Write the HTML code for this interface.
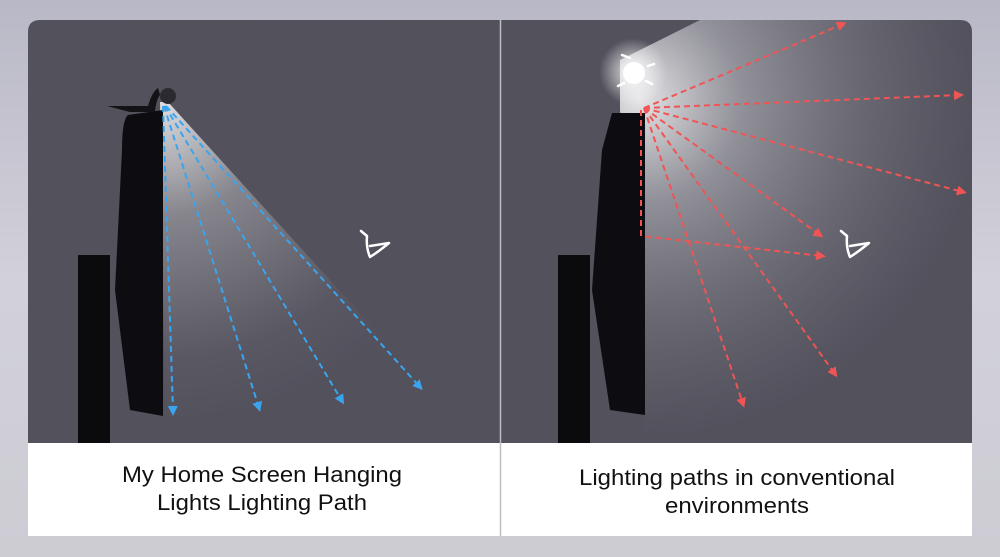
<!DOCTYPE html>
<html><head><meta charset="utf-8"><style>
html,body{margin:0;padding:0;width:1000px;height:557px;overflow:hidden;background:#cfced6}
</style></head><body>
<svg width="1000" height="557" viewBox="0 0 1000 557" xmlns="http://www.w3.org/2000/svg">
<defs>
<linearGradient id="bg" x1="0" y1="0" x2="0" y2="1"><stop offset="0" stop-color="#b9b8c6"/><stop offset="0.5" stop-color="#d2d1da"/><stop offset="1" stop-color="#cdccd3"/></linearGradient>
<radialGradient id="beamL" cx="163" cy="104" r="320" gradientUnits="userSpaceOnUse"><stop offset="0" stop-color="#ffffff" stop-opacity="0.8"/><stop offset="0.35" stop-color="#ffffff" stop-opacity="0.3"/><stop offset="0.8" stop-color="#ffffff" stop-opacity="0.04"/><stop offset="1" stop-color="#ffffff" stop-opacity="0"/></radialGradient>
<radialGradient id="glowR" cx="640" cy="100" r="340" gradientUnits="userSpaceOnUse"><stop offset="0" stop-color="#ffffff" stop-opacity="0.85"/><stop offset="0.3" stop-color="#d0d0d6" stop-opacity="0.5"/><stop offset="1" stop-color="#8a8a94" stop-opacity="0"/></radialGradient>
<radialGradient id="bulbG" cx="633" cy="72" r="34" gradientUnits="userSpaceOnUse"><stop offset="0" stop-color="#fff" stop-opacity="0.9"/><stop offset="1" stop-color="#fff" stop-opacity="0"/></radialGradient>
<marker id="ab" markerWidth="10" markerHeight="10" refX="6" refY="5" orient="auto" markerUnits="userSpaceOnUse"><path d="M0,0 L10,5 L0,10 z" fill="#3aa4ee"/></marker>
<marker id="ar" markerWidth="10" markerHeight="10" refX="6" refY="5" orient="auto" markerUnits="userSpaceOnUse"><path d="M0,0 L10,5 L0,10 z" fill="#f05454"/></marker>
<clipPath id="cl"><rect x="28" y="20" width="472" height="423"/></clipPath>
<clipPath id="cr"><rect x="501" y="20" width="471" height="423"/></clipPath>
</defs>
<rect width="1000" height="557" fill="url(#bg)"/>
<path d="M28,443 V32 Q28,20 40,20 H960 Q972,20 972,32 V443 Z" fill="#52515c"/>
<rect x="28" y="443" width="944" height="93" fill="#fff"/>
<line x1="500.5" y1="20" x2="500.5" y2="536" fill="none" stroke="#bdbdc4" stroke-width="1.5"/>
<g clip-path="url(#cl)">
<polygon points="160,102 168,102 430,390 165,418" fill="url(#beamL)"/>
<rect x="78" y="255" width="32" height="188" fill="#0b0b0e"/>
<path d="M128,115 Q122,120 122,150 L115,290 L130,410 L163,416 L163,110 Z" fill="#0d0d11"/>
<path d="M107,106 L148,106 Q152,92 158,88 L160,95 Q156,100 155,112 L130,112 Z" fill="#121217"/>
<circle cx="168" cy="96" r="8" fill="#2a2a30"/>
<g fill="none" stroke="#3aa4ee" stroke-width="2" stroke-dasharray="6,4">
<line x1="163" y1="106" x2="173" y2="412" marker-end="url(#ab)"/>
<line x1="164" y1="106" x2="259" y2="408" marker-end="url(#ab)"/>
<line x1="165" y1="106" x2="342" y2="401" marker-end="url(#ab)"/>
<line x1="166" y1="106" x2="420" y2="387" marker-end="url(#ab)"/>
</g>
<path d="M361,231 L367,236 Q366,248 370,257 Q378,252 389,243 L370,246" fill="none" stroke="#fff" stroke-width="2.5" stroke-linecap="round" stroke-linejoin="round"/>
</g>
<g clip-path="url(#cr)">
<polygon points="620,60 700,20 972,20 972,443 645,443 620,110" fill="url(#glowR)"/>
<circle cx="633" cy="72" r="34" fill="url(#bulbG)"/>
<circle cx="634" cy="73" r="11" fill="#fff"/>
<g stroke="#fff" stroke-width="2.5" stroke-linecap="round"><line x1="622" y1="55" x2="630" y2="58"/><line x1="618" y1="86" x2="624" y2="83"/><line x1="646" y1="81" x2="652" y2="84"/><line x1="648" y1="66" x2="654" y2="64"/></g>
<rect x="558" y="255" width="32" height="188" fill="#0b0b0e"/>
<path d="M612,113 L645,113 L645,415 L610,410 L592,290 L602,150 Z" fill="#0d0d11"/>
<g fill="none" stroke="#f05454" stroke-width="2" stroke-dasharray="6,4">
<line x1="644" y1="108" x2="843" y2="24" marker-end="url(#ar)"/>
<line x1="644" y1="108" x2="960" y2="95" marker-end="url(#ar)"/>
<line x1="644" y1="108" x2="963" y2="192" marker-end="url(#ar)"/>
<line x1="644" y1="108" x2="820" y2="235" marker-end="url(#ar)"/>
<line x1="644" y1="108" x2="835" y2="374" marker-end="url(#ar)"/>
<line x1="644" y1="108" x2="743" y2="404" marker-end="url(#ar)"/>
<polyline points="641,110 641,236 822,256" marker-end="url(#ar)"/>
</g>
<path d="M841,231 L847,236 Q846,248 850,257 Q858,252 869,243 L850,246" fill="none" stroke="#fff" stroke-width="2.5" stroke-linecap="round" stroke-linejoin="round"/>
</g>
<g font-family="Liberation Sans, Arial, sans-serif" font-size="22" fill="#111" text-anchor="middle">
<text x="262" y="482" textLength="280" lengthAdjust="spacingAndGlyphs">My Home Screen Hanging</text>
<text x="262" y="510" textLength="210" lengthAdjust="spacingAndGlyphs">Lights Lighting Path</text>
<text x="737" y="485" textLength="316" lengthAdjust="spacingAndGlyphs">Lighting paths in conventional</text>
<text x="737" y="513" textLength="144" lengthAdjust="spacingAndGlyphs">environments</text>
</g>
</svg>
</body></html>
